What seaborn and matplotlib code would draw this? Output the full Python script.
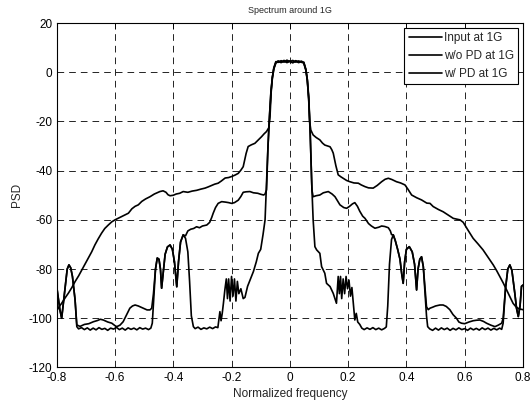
import numpy as np
import pandas as pd
import seaborn as sns
import matplotlib
matplotlib.use("Agg")
import matplotlib.pyplot as plt

# PSD traces: (normalized frequency, PSD)
input_pts = [
    (-0.800, -87.0), (-0.789, -96.6), (-0.783, -100.0), (-0.772, -88.5), (-0.764, -80.0),
    (-0.758, -78.3), (-0.752, -79.5), (-0.746, -83.0), (-0.737, -92.5), (-0.731, -103.4),
    (-0.725, -104.3), (-0.715, -103.8), (-0.705, -104.6), (-0.695, -103.9), (-0.685, -104.8),
    (-0.675, -104.0), (-0.665, -104.7), (-0.655, -103.8), (-0.645, -104.5), (-0.635, -104.1),
    (-0.625, -104.9), (-0.615, -104.0), (-0.605, -104.4), (-0.595, -103.7), (-0.585, -104.6),
    (-0.575, -104.0), (-0.565, -104.8), (-0.555, -103.9), (-0.545, -104.5), (-0.535, -104.0),
    (-0.525, -104.7), (-0.515, -103.8), (-0.505, -104.4), (-0.495, -104.0), (-0.485, -104.6),
    (-0.477, -104.0), (-0.472, -102.0), (-0.467, -92.0), (-0.461, -80.0), (-0.455, -75.5),
    (-0.449, -76.0), (-0.444, -80.0), (-0.440, -87.8), (-0.435, -82.0), (-0.428, -74.0),
    (-0.420, -71.0), (-0.411, -70.2), (-0.403, -72.0), (-0.396, -77.0), (-0.388, -87.2),
    (-0.382, -77.0), (-0.375, -69.0), (-0.366, -66.1), (-0.358, -67.5), (-0.350, -73.0),
    (-0.344, -85.0), (-0.338, -99.0), (-0.331, -103.4), (-0.325, -104.2), (-0.315, -103.6),
    (-0.305, -104.5), (-0.295, -103.9), (-0.285, -104.3), (-0.275, -103.6), (-0.265, -104.2),
    (-0.255, -103.5), (-0.247, -103.8), (-0.240, -97.3), (-0.236, -101.0), (-0.232, -98.0),
    (-0.228, -94.0), (-0.223, -88.5), (-0.218, -84.0), (-0.214, -92.0), (-0.210, -84.0),
    (-0.205, -93.0), (-0.200, -83.0), (-0.195, -91.0), (-0.190, -84.0), (-0.185, -93.0),
    (-0.180, -85.0), (-0.175, -90.0), (-0.168, -88.0), (-0.160, -92.0), (-0.154, -91.5),
    (-0.145, -87.0), (-0.135, -84.0), (-0.125, -81.0), (-0.115, -77.0), (-0.108, -73.6),
    (-0.100, -72.0), (-0.092, -66.0), (-0.085, -60.0), (-0.080, -45.0), (-0.075, -30.0),
    (-0.070, -18.0), (-0.065, -8.0), (-0.060, -2.0), (-0.055, 1.5), (-0.048, 4.0),
    (-0.040, 4.6), (-0.030, 4.1), (-0.020, 4.8), (-0.010, 4.2), (0.000, 4.6),
    (0.010, 4.0), (0.020, 4.7), (0.030, 4.2), (0.040, 4.5), (0.048, 3.8),
    (0.055, 1.0), (0.060, -3.0), (0.065, -10.0), (0.070, -25.0), (0.075, -45.0),
    (0.080, -60.0), (0.086, -70.9), (0.092, -72.2), (0.103, -73.6), (0.109, -79.0),
    (0.120, -81.7), (0.126, -85.8), (0.138, -87.1), (0.149, -89.9), (0.160, -93.9),
    (0.166, -83.0), (0.170, -90.0), (0.174, -83.0), (0.178, -92.0), (0.183, -84.0),
    (0.188, -90.0), (0.193, -83.0), (0.198, -88.0), (0.203, -84.5), (0.208, -91.0),
    (0.213, -87.5), (0.218, -94.0), (0.223, -100.7), (0.228, -98.0), (0.233, -101.5),
    (0.240, -102.5), (0.247, -104.0), (0.255, -104.6), (0.265, -103.9), (0.275, -104.5),
    (0.285, -103.8), (0.295, -104.6), (0.305, -104.0), (0.315, -104.7), (0.325, -104.1),
    (0.331, -103.5), (0.336, -95.0), (0.342, -78.0), (0.349, -68.0), (0.355, -66.1),
    (0.362, -68.5), (0.370, -72.0), (0.378, -76.0), (0.384, -82.0), (0.389, -85.8),
    (0.394, -77.0), (0.400, -72.0), (0.410, -70.9), (0.420, -73.0), (0.428, -78.0),
    (0.435, -88.5), (0.440, -80.0), (0.446, -76.0), (0.452, -75.0), (0.458, -79.0),
    (0.464, -90.0), (0.469, -99.0), (0.473, -103.4), (0.480, -104.3), (0.490, -104.9),
    (0.500, -104.0), (0.510, -104.8), (0.520, -103.9), (0.530, -104.6), (0.540, -104.0),
    (0.550, -104.9), (0.560, -104.1), (0.570, -104.7), (0.580, -103.9), (0.590, -104.6),
    (0.600, -104.2), (0.610, -104.9), (0.620, -104.0), (0.630, -104.7), (0.640, -104.1),
    (0.650, -104.8), (0.660, -103.9), (0.670, -104.6), (0.680, -104.0), (0.690, -104.8),
    (0.700, -104.1), (0.710, -104.7), (0.720, -104.0), (0.727, -104.5), (0.732, -102.0),
    (0.740, -88.0), (0.748, -80.0), (0.755, -78.3), (0.762, -80.5), (0.772, -89.8),
    (0.778, -96.0), (0.784, -99.3), (0.790, -95.0), (0.795, -87.0), (0.800, -86.5),
]

wo_pd_pts = [
    (-0.800, -97.0), (-0.790, -95.0), (-0.783, -93.9), (-0.770, -91.5), (-0.760, -89.8),
    (-0.748, -87.5), (-0.737, -85.1), (-0.725, -82.8), (-0.714, -80.4), (-0.703, -78.0),
    (-0.692, -75.6), (-0.680, -73.0), (-0.669, -70.2), (-0.658, -67.8), (-0.646, -65.4),
    (-0.635, -63.5), (-0.623, -62.1), (-0.611, -60.8), (-0.600, -60.0), (-0.588, -59.3),
    (-0.577, -58.7), (-0.565, -58.0), (-0.554, -57.3), (-0.542, -55.5), (-0.531, -54.5),
    (-0.520, -53.9), (-0.508, -52.5), (-0.495, -51.5), (-0.480, -50.6), (-0.465, -49.5),
    (-0.446, -48.5), (-0.435, -48.2), (-0.425, -48.8), (-0.418, -49.8), (-0.411, -50.2),
    (-0.400, -50.0), (-0.390, -49.5), (-0.378, -49.2), (-0.366, -48.5), (-0.350, -48.8),
    (-0.335, -48.3), (-0.320, -48.0), (-0.305, -47.5), (-0.291, -47.1), (-0.280, -46.6),
    (-0.268, -46.0), (-0.258, -45.5), (-0.246, -45.1), (-0.235, -44.2), (-0.222, -43.0),
    (-0.210, -42.8), (-0.200, -42.4), (-0.188, -41.8), (-0.177, -41.1), (-0.168, -39.8),
    (-0.160, -38.4), (-0.150, -33.0), (-0.143, -30.2), (-0.132, -29.5), (-0.120, -28.9),
    (-0.108, -27.5), (-0.097, -26.2), (-0.088, -25.0), (-0.080, -24.1), (-0.072, -22.5),
    (-0.068, -18.0), (-0.064, -8.0), (-0.060, -2.5), (-0.055, 1.8), (-0.048, 4.3),
    (-0.040, 4.0), (-0.030, 4.7), (-0.020, 4.1), (-0.010, 4.9), (0.000, 4.3),
    (0.010, 4.8), (0.020, 4.1), (0.030, 4.6), (0.040, 4.0), (0.048, 4.1),
    (0.055, 1.2), (0.060, -3.0), (0.065, -12.0), (0.068, -20.0), (0.072, -23.5),
    (0.080, -25.5), (0.090, -26.5), (0.103, -27.5), (0.112, -28.8), (0.120, -29.6),
    (0.130, -30.0), (0.138, -30.3), (0.144, -31.5), (0.149, -32.9), (0.158, -38.0),
    (0.166, -41.7), (0.175, -42.5), (0.183, -43.1), (0.195, -44.0), (0.206, -44.5),
    (0.220, -45.0), (0.235, -45.1), (0.245, -45.8), (0.258, -46.5), (0.270, -47.0),
    (0.286, -47.1), (0.300, -46.0), (0.315, -44.5), (0.327, -43.5), (0.338, -43.1),
    (0.350, -43.6), (0.366, -44.5), (0.380, -45.0), (0.395, -45.8), (0.405, -47.5),
    (0.418, -49.9), (0.435, -51.0), (0.452, -51.9), (0.470, -53.2), (0.481, -53.3),
    (0.492, -54.6), (0.510, -55.8), (0.526, -56.7), (0.543, -58.0), (0.561, -59.4),
    (0.584, -60.0), (0.595, -61.0), (0.612, -64.3), (0.629, -67.5), (0.646, -69.8),
    (0.663, -72.2), (0.680, -75.2), (0.698, -78.3), (0.710, -80.7), (0.721, -83.1),
    (0.733, -85.8), (0.744, -88.5), (0.755, -91.2), (0.766, -93.9), (0.775, -95.2),
    (0.784, -96.0), (0.792, -96.3), (0.800, -96.5),
]

w_pd_pts = [
    (-0.800, -87.2), (-0.789, -96.6), (-0.783, -100.0), (-0.772, -88.5), (-0.764, -80.0),
    (-0.758, -78.3), (-0.752, -79.5), (-0.746, -83.0), (-0.737, -92.5), (-0.731, -102.7),
    (-0.720, -103.3), (-0.705, -102.5), (-0.690, -102.2), (-0.674, -101.4), (-0.660, -100.9),
    (-0.650, -100.4), (-0.640, -100.7), (-0.625, -101.5), (-0.611, -102.0), (-0.600, -103.0),
    (-0.594, -103.4), (-0.583, -102.8), (-0.572, -101.4), (-0.560, -98.5), (-0.549, -95.9),
    (-0.540, -95.0), (-0.531, -94.6), (-0.520, -95.0), (-0.503, -95.9), (-0.490, -96.6),
    (-0.480, -96.6), (-0.474, -95.9), (-0.468, -90.0), (-0.461, -80.0), (-0.455, -75.5),
    (-0.449, -76.0), (-0.444, -80.0), (-0.440, -87.8), (-0.435, -82.0), (-0.428, -74.0),
    (-0.420, -71.0), (-0.411, -70.2), (-0.403, -72.0), (-0.396, -77.0), (-0.388, -87.2),
    (-0.382, -77.0), (-0.375, -69.0), (-0.366, -66.1), (-0.358, -66.5), (-0.350, -64.5),
    (-0.340, -63.8), (-0.330, -63.5), (-0.320, -62.8), (-0.310, -63.2), (-0.300, -62.5),
    (-0.285, -62.1), (-0.275, -61.0), (-0.268, -59.0), (-0.263, -57.3), (-0.255, -55.0),
    (-0.246, -53.3), (-0.234, -52.6), (-0.220, -52.8), (-0.210, -53.0), (-0.200, -53.3),
    (-0.190, -53.0), (-0.177, -52.0), (-0.168, -50.5), (-0.160, -48.8), (-0.150, -48.6),
    (-0.137, -48.5), (-0.125, -49.0), (-0.110, -49.2), (-0.100, -49.6), (-0.090, -49.9),
    (-0.085, -49.5), (-0.080, -47.8), (-0.075, -30.5), (-0.070, -18.5), (-0.065, -8.5),
    (-0.060, -2.2), (-0.055, 1.3), (-0.048, 3.7), (-0.040, 4.4), (-0.030, 3.9),
    (-0.020, 4.5), (-0.010, 3.9), (0.000, 4.4), (0.010, 3.8), (0.020, 4.5),
    (0.030, 3.9), (0.040, 4.3), (0.048, 3.6), (0.055, 0.8), (0.060, -3.5),
    (0.065, -11.0), (0.070, -25.5), (0.076, -48.0), (0.080, -50.6), (0.090, -50.2),
    (0.103, -49.9), (0.115, -49.0), (0.132, -48.5), (0.145, -49.5), (0.155, -50.6),
    (0.165, -52.5), (0.172, -53.9), (0.185, -55.0), (0.195, -55.3), (0.205, -54.5),
    (0.215, -53.5), (0.223, -53.0), (0.232, -54.5), (0.240, -56.5), (0.250, -58.5),
    (0.258, -59.4), (0.270, -61.5), (0.280, -62.5), (0.292, -63.4), (0.305, -63.0),
    (0.315, -62.5), (0.326, -62.7), (0.338, -63.2), (0.345, -64.5), (0.349, -66.0),
    (0.355, -66.1), (0.362, -68.5), (0.370, -72.0), (0.378, -76.0), (0.384, -82.0),
    (0.389, -85.8), (0.394, -77.0), (0.400, -72.0), (0.410, -70.9), (0.420, -73.0),
    (0.428, -78.0), (0.435, -88.5), (0.440, -80.0), (0.446, -76.0), (0.452, -75.0),
    (0.458, -79.0), (0.464, -88.0), (0.469, -95.3), (0.475, -96.5), (0.481, -95.9),
    (0.490, -95.5), (0.500, -95.0), (0.515, -94.6), (0.526, -94.6), (0.537, -95.2),
    (0.549, -96.5), (0.560, -98.5), (0.572, -100.0), (0.580, -101.5), (0.589, -102.0),
    (0.600, -102.2), (0.615, -101.5), (0.629, -101.0), (0.640, -100.8), (0.652, -100.7),
    (0.665, -101.3), (0.675, -102.0), (0.690, -102.8), (0.704, -103.4), (0.715, -102.8),
    (0.727, -102.0), (0.732, -100.0), (0.740, -88.0), (0.748, -80.0), (0.755, -78.3),
    (0.762, -80.5), (0.772, -89.8), (0.778, -96.0), (0.784, -99.3), (0.790, -95.0),
    (0.795, -87.0), (0.800, -86.5),
]

series_labels = ["Input at 1G", "w/o PD at 1G", "w/ PD at 1G"]
xticks = [-0.8, -0.6, -0.4, -0.2, 0, 0.2, 0.4, 0.6, 0.8]
xtick_labels = ["-0.8", "-0.6", "-0.4", "-0.2", "0", "0.2", "0.4", "0.6", "0.8"]
yticks = [-120, -100, -80, -60, -40, -20, 0, 20]

frames = []
for label, pts in zip(series_labels, [input_pts, wo_pd_pts, w_pd_pts]):
    arr = np.array(pts)
    frames.append(pd.DataFrame({"freq": arr[:, 0], "psd": arr[:, 1], "trace": label}))
df = pd.concat(frames, ignore_index=True)

sns.set_style("white")
plt.rcParams["font.family"] = ["Liberation Sans", "DejaVu Sans"]
plt.rcParams["axes.unicode_minus"] = False

fig = plt.figure(figsize=(5.32, 4.05), dpi=100)
ax = fig.add_axes([0.1066, 0.0926, 0.8764, 0.8506])

sns.lineplot(data=df, x="freq", y="psd", hue="trace", hue_order=series_labels,
             palette=["black"] * 3, linewidth=1.2, estimator=None, sort=False, ax=ax)

ax.set_xlim(-0.8, 0.8)
ax.set_ylim(-120, 20)
ax.set_xticks(xticks)
ax.set_xticklabels(xtick_labels)
ax.set_yticks(yticks)
ax.grid(True, color="black", linestyle=(0, (8, 6)), linewidth=0.6)
ax.tick_params(direction="in", length=4, width=0.6, top=True, right=True,
               labelsize=8.5, colors="black", pad=3)
for s in ax.spines.values():
    s.set_color("black")
    s.set_linewidth(0.8)

ax.set_xlabel("Normalized frequency", fontsize=8.5, labelpad=3)
ax.set_ylabel("PSD", fontsize=8.5, labelpad=4)
ax.set_title("Spectrum around 1G", fontsize=6.5, pad=7)

leg = ax.legend(loc="upper right", fontsize=8.5, frameon=True, fancybox=False,
                edgecolor="black", framealpha=1, handlelength=2.8, handletextpad=0.2,
                borderaxespad=0.4, labelspacing=0.5, borderpad=0.35)
leg.get_frame().set_linewidth(0.8)

fig.savefig("out.png", dpi=100)
